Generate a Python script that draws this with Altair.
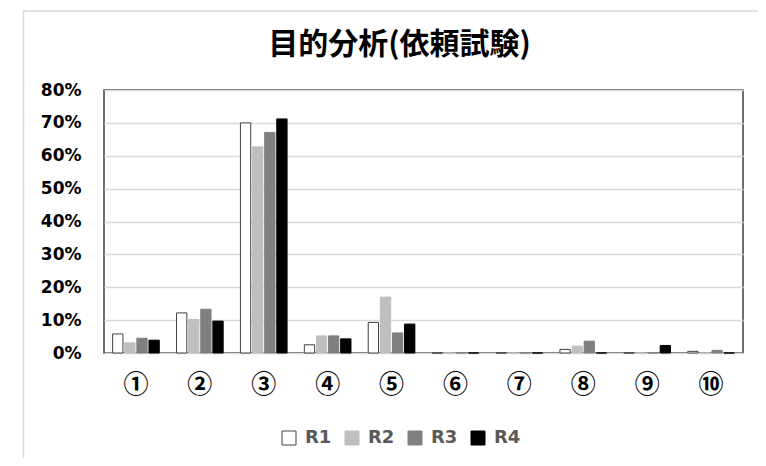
import altair as alt
import pandas as pd

categories = ["①", "②", "③", "④", "⑤", "⑥", "⑦", "⑧", "⑨", "⑩"]
series = ["R1", "R2", "R3", "R4"]
r1 = [5.8, 12.2, 70.0, 2.5, 9.3, 0.0, 0.0, 1.1, 0.0, 0.5]
r2 = [3.1, 10.2, 62.7, 5.2, 17.0, 0.0, 0.0, 2.1, 0.0, 0.0]
r3 = [4.5, 13.3, 67.1, 5.2, 6.1, 0.0, 0.0, 3.6, 0.0, 0.8]
r4 = [3.9, 9.7, 71.2, 4.3, 8.8, 0.0, 0.0, 0.0, 2.3, 0.0]
y_ticks = [0, 0.1, 0.2, 0.3, 0.4, 0.5, 0.6, 0.7, 0.8]

rows = []
for i, c in enumerate(categories):
    for s, vals in zip(series, [r1, r2, r3, r4]):
        rows.append({"cat": c, "series": s, "value": vals[i] / 100})
df = pd.DataFrame(rows)

fills = ["#ffffff", "#bfbfbf", "#808080", "#000000"]
strokes = ["#404040", "#bfbfbf", "#808080", "#000000"]

bars = alt.Chart(df).mark_bar(strokeWidth=1).encode(
    x=alt.X("cat:N", sort=categories,
            scale=alt.Scale(paddingInner=0.27, paddingOuter=0.135),
            axis=alt.Axis(title=None, labelAngle=0, labelFont="Noto Sans CJK JP",
                          labelFontSize=25, labelFontWeight="bold", labelColor="#000000",
                          ticks=False, domain=False, labelPadding=19, grid=False)),
    xOffset=alt.XOffset("series:N", sort=series, scale=alt.Scale(paddingInner=0.15)),
    y=alt.Y("value:Q", scale=alt.Scale(domain=[0, 0.8]),
            axis=alt.Axis(title=None, format=".0%", values=y_ticks, ticks=False,
                          domain=False, labelFont="DejaVu Sans", labelFontWeight="bold",
                          labelFontSize=17, labelColor="#000000", labelPadding=23,
                          gridColor="#d9d9d9", gridWidth=1.5)),
    fill=alt.Fill("series:N", sort=series, scale=alt.Scale(domain=series, range=fills),
                  legend=alt.Legend(title=None)),
    stroke=alt.Stroke("series:N", sort=series, scale=alt.Scale(domain=series, range=strokes),
                      legend=alt.Legend(title=None)),
)

frame_df = pd.DataFrame({"k": [0]})
frame = alt.Chart(frame_df).mark_rect(fill=None, stroke="#d9d9d9", strokeWidth=1.5).encode(
    x=alt.value(-80.5), x2=alt.value(667), y=alt.value(-79), y2=alt.value(400)
)

chart = alt.layer(bars, frame).properties(
    width=639, height=263,
    title=alt.TitleParams("目的分析(依頼試験)", font="Noto Sans CJK JP", fontSize=30,
                          fontWeight="bold", color="#000000", anchor="middle",
                          dx=-24, offset=-50),
    autosize=alt.AutoSizeParams(type="none"),
    padding={"left": 96, "top": 82, "right": 15, "bottom": 105},
).configure_view(
    stroke="#404040", strokeWidth=1.5
).configure_legend(
    orient="none", legendX=176, legendY=339, direction="horizontal", columns=4,
    symbolType="square", symbolSize=196, symbolStrokeWidth=1,
    labelFont="DejaVu Sans", labelFontWeight="bold", labelFontSize=18,
    labelColor="#595959", labelOffset=7, columnPadding=11
)

chart.save("out.html", embed_options={"renderer": "svg", "actions": False})
